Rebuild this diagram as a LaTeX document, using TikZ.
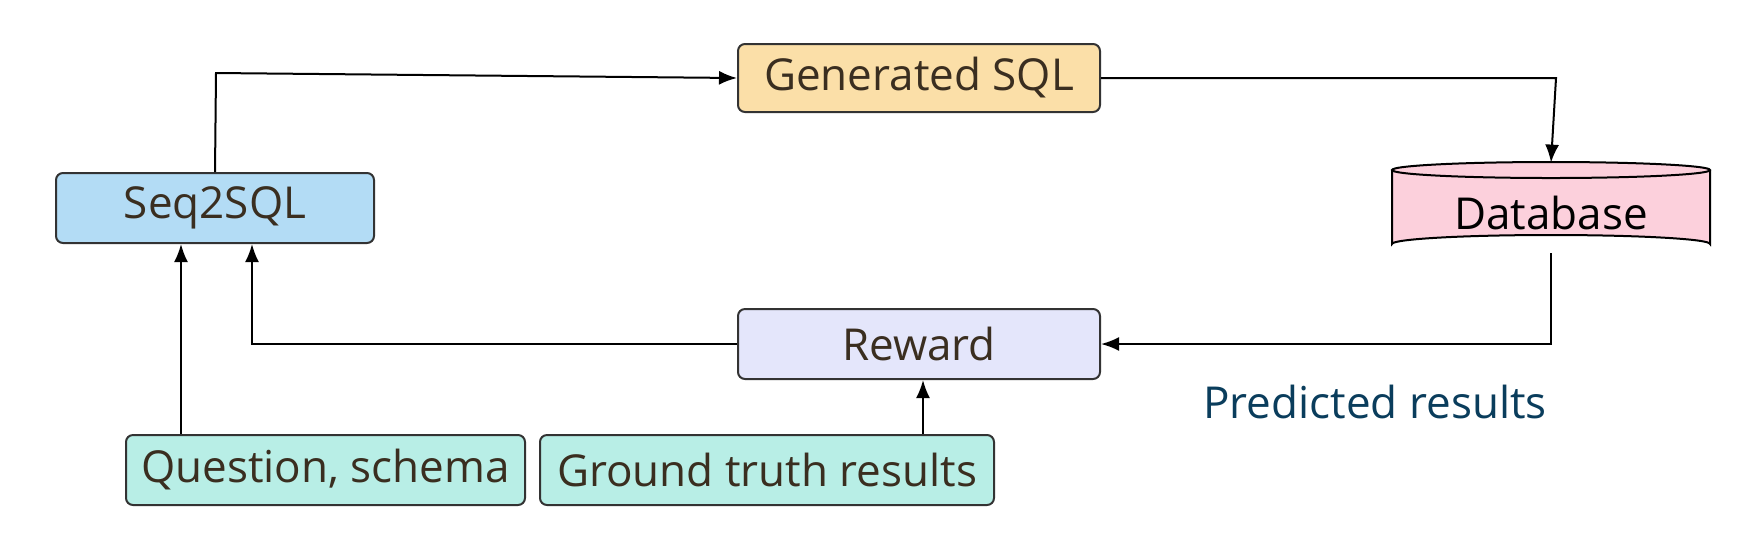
\documentclass[tikz,border=0pt]{standalone}
\usepackage{fontspec}
\setmainfont{Open Sans}
\usetikzlibrary{arrows.meta}
\definecolor{txt}{HTML}{3A2E20}
\definecolor{seqc}{HTML}{B3DCF5}
\definecolor{genc}{HTML}{FBDFA8}
\definecolor{dbc}{HTML}{FCD0DC}
\definecolor{rewc}{HTML}{E4E6FB}
\definecolor{inc}{HTML}{B8EEE6}
\definecolor{predc}{HTML}{0A3D5C}
\definecolor{bord}{HTML}{333333}
\begin{document}
\begin{tikzpicture}[x=0.5pt,y=-0.5pt,
  box/.style={draw=bord,line width=1pt,rounded corners=3.5pt,text=txt,
    font=\fontsize{22}{26}\selectfont,inner sep=0pt,anchor=center},
  arr/.style={line width=1pt,-{Latex[length=9pt,width=7pt]}},
  ln/.style={line width=1pt}]
\useasboundingbox (0,0) rectangle (1764,538);
\node[box,fill=seqc,minimum width=159pt,minimum height=35pt] (seq) at (215,208) {Seq2SQL};
\node[box,fill=genc,minimum width=181pt,minimum height=34pt] (gen) at (919,78) {Generated SQL};
\node[box,fill=rewc,minimum width=181pt,minimum height=35pt] (rew) at (919,344) {Reward};
\node[box,fill=inc,minimum width=199.5pt,minimum height=35pt] (q) at (325.5,470) {Question, schema};
\node[box,fill=inc,minimum width=227pt,minimum height=35pt] (gt) at (767,470) {Ground truth results};
% database cylinder
\node[inner sep=0pt,minimum width=159pt,minimum height=45pt] (db) at (1551,208) {};
\fill[dbc] (1392,170) -- (1392,244) arc[start angle=180,end angle=360,x radius=159,y radius=9] -- (1710,170) arc[start angle=0,end angle=180,x radius=159,y radius=9] -- cycle;
\draw[black,line width=1pt] (1392,170) -- (1392,244) arc[start angle=180,end angle=360,x radius=159,y radius=9] -- (1710,170);
\draw[black,line width=1pt,fill=dbc] (1551,170) ellipse[x radius=159,y radius=8];
\node[font=\fontsize{22}{26}\selectfont,text=black] at (1551,213) {Database};
\node[font=\fontsize{22}{26}\selectfont,text=predc] (pred) at (1375,402) {Predicted results};
% connectors
\coordinate (c1) at (216,73);
\draw[arr] (seq.north) -- (c1) -- (gen.west);
\coordinate (c2) at (1556,78);
\draw[arr] (gen.east) -- (c2) -- (db.north);
\draw[arr] (db.south) |- (rew.east);
\coordinate (c3) at (252,344);
\draw[arr] (rew.west) -- (c3) -- (c3 |- seq.south);
\draw[arr] (q.north -| 181,0) -- (seq.south -| 181,0);
\draw[arr] (gt.north -| 923,0) -- (rew.south -| 923,0);
\end{tikzpicture}
\end{document}
